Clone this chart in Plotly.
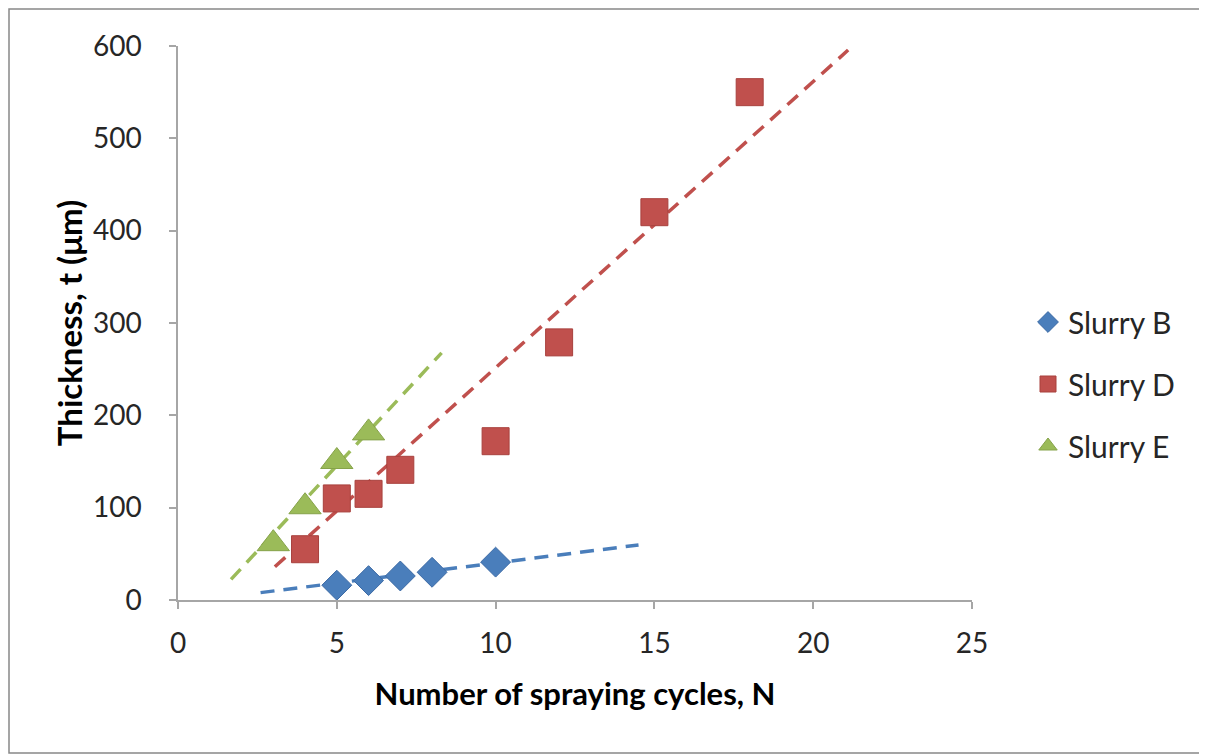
import numpy as np
import plotly.graph_objects as go

# ---- data ----
series_names = ["Slurry B", "Slurry D", "Slurry E"]

b_cycles = [5, 6, 7, 8, 10]
b_thickness = [16, 21, 26, 30, 41]

d_cycles = [4, 5, 6, 7, 10, 12, 15, 18]
d_thickness = [55, 110, 115, 141, 172, 279, 420, 550]

e_cycles = [3, 4, 5, 6]
e_thickness = [61, 101, 150, 181]

# linear trendlines as drawn in the reference: slope, intercept, x-start, x-end
trend_slope = [4.34, 31.0, 37.0]
trend_intercept = [-3.3, -58.5, -39.4]
trend_x_start = [2.6, 3.05, 1.67]
trend_x_end = [14.5, 21.1, 8.3]

x_ticks = [0, 5, 10, 15, 20, 25]
y_ticks = [0, 100, 200, 300, 400, 500, 600]

colors = ["#4A7EBB", "#C0504D", "#9BBB59"]
edge_colors = ["#3C6AA5", "#A8403D", "#86A34A"]
symbols = ["diamond", "square", "triangle-up"]
sizes = [23, 27, 28]

FONT = "Lato, 'Open Sans', sans-serif"

fig = go.Figure()

xs = [b_cycles, d_cycles, e_cycles]
ys = [b_thickness, d_thickness, e_thickness]

# trendlines (drawn first, beneath markers)
for i in range(3):
    tx = np.array([trend_x_start[i], trend_x_end[i]])
    ty = trend_slope[i] * tx + trend_intercept[i]
    fig.add_trace(go.Scatter(
        x=tx, y=ty, mode="lines",
        line=dict(color=colors[i], width=3.5, dash="14px,9px"),
        showlegend=False, hoverinfo="skip",
    ))

for i in range(3):
    fig.add_trace(go.Scatter(
        x=xs[i], y=ys[i], mode="markers", name=series_names[i],
        legendgroup=series_names[i],
        marker=dict(symbol=symbols[i], size=sizes[i], color=colors[i],
                    line=dict(color=edge_colors[i], width=1)),
    ))

# page has an 8px body margin; figure coordinates are window coordinates - 8
L, R, T, B = 170, 235, 38, 155
W, H = 1199, 747
pw, ph = W - L - R, H - T - B

def px_to_paper_x(p):
    return (p - L) / pw

def px_to_paper_y(p):
    return (H - B - p) / ph

axis_color = "#A6A6A6"

fig.update_layout(
    width=W, height=H,
    margin=dict(l=L, r=R, t=T, b=B),
    paper_bgcolor="white", plot_bgcolor="white",
    font=dict(family=FONT, color="#262626", size=28),
    legend=dict(
        x=px_to_paper_x(1020), y=px_to_paper_y(376),
        xanchor="left", yanchor="middle",
        font=dict(size=30, family=FONT, color="#262626"),
        tracegroupgap=20, bgcolor="rgba(0,0,0,0)",
    ),
    xaxis=dict(
        range=[0, 25], tickvals=x_ticks, showgrid=False, zeroline=False,
        showline=True, linecolor=axis_color, linewidth=1.5,
        ticks="outside", ticklen=7, tickcolor=axis_color, tickwidth=1.5,
        ticklabelstandoff=11,
        tickfont=dict(size=28, family=FONT, color="#262626"),
        title=dict(text="<b>Number of spraying cycles, N</b>",
                   font=dict(size=31, family=FONT, color="#000000"), standoff=25),
        fixedrange=True,
    ),
    yaxis=dict(
        range=[0, 600], tickvals=y_ticks, showgrid=False, zeroline=False,
        showline=True, linecolor=axis_color, linewidth=1.5,
        ticks="outside", ticklen=7, tickcolor=axis_color, tickwidth=1.5,
        ticklabelstandoff=22,
        tickfont=dict(size=28, family=FONT, color="#262626"),
        title=dict(text="<b>Thickness, t (μm)</b>",
                   font=dict(size=33, family=FONT, color="#000000"), standoff=0),
        fixedrange=True,
    ),
    shapes=[dict(
        type="rect", xref="paper", yref="paper",
        x0=px_to_paper_x(1), x1=px_to_paper_x(1194),
        y0=px_to_paper_y(745), y1=px_to_paper_y(1),
        line=dict(color="#888888", width=1.5), fillcolor="rgba(0,0,0,0)",
        layer="below",
    )],
)

fig.write_html("out.html")
